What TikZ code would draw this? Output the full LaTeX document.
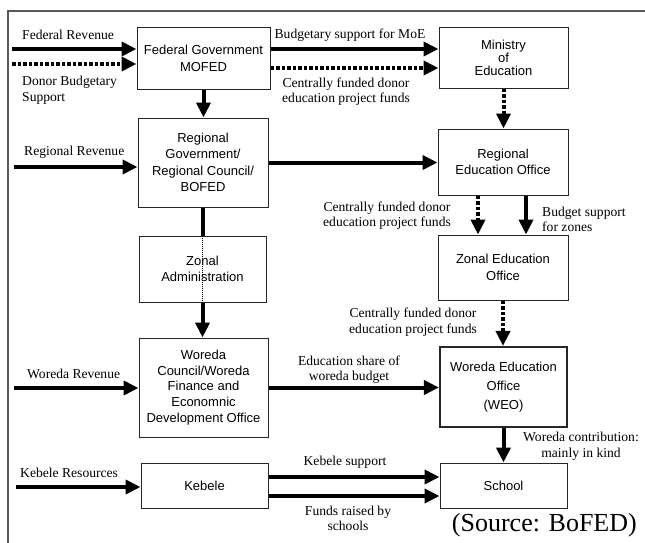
\documentclass[tikz,border=0pt]{standalone}
\usepackage{fontspec}
\setmainfont{Liberation Serif}
\newfontfamily\boxfont{Liberation Sans}
\usetikzlibrary{arrows.meta}
\begin{document}
\begin{tikzpicture}[x=1pt,y=-1pt,
  unit/.style={draw=black!85, line width=1pt, fill=white, align=center, inner sep=0pt,
    font=\boxfont\fontsize{13}{16.3}\selectfont},
  flow/.style={line width=4pt, -{Triangle[length=15pt,width=14pt]}},
  link/.style={line width=4pt},
  donor/.style={flow, dash pattern=on 3.5pt off 2pt},
  lbl/.style={font=\fontsize{13.6}{15.5}\selectfont, inner sep=0pt, align=center},
  frame/.style={draw=black!65, line width=1.5pt},
]
\useasboundingbox (0,0) rectangle (645,543);

% outer frame (top and left edges only)
\draw[frame] (8,543) -- (8,11) -- (645,11);

% administrative units
\node[unit, minimum width=133pt, minimum height=61pt] (fed) at (203.5,58.5) {Federal Government\\MOFED};
\node[unit, minimum width=129pt, minimum height=60pt, font=\boxfont\fontsize{13}{13.3}\selectfont] (moe) at (503.5,58) {Ministry\\of\\Education};
\node[unit, minimum width=130pt, minimum height=89pt] (rg) at (203,162.5) {Regional\\Government/\\Regional Council/\\BOFED};
\node[unit, minimum width=127pt, minimum height=66pt] (za) at (202.5,269) {Zonal\\Administration};
\node[unit, minimum width=130pt, minimum height=66pt] (reo) at (503,162) {Regional\\Education Office};
\node[unit, minimum width=130pt, minimum height=65pt] (zeo) at (503,267.5) {Zonal Education\\Office};
\node[unit, minimum width=129pt, minimum height=99pt, font=\boxfont\fontsize{13}{15.8}\selectfont] (wc) at (203.5,387.5) {Woreda\\Council/Woreda\\Finance and\\Economnic\\Development Office};
\node[unit, minimum width=127pt, minimum height=45pt] (keb) at (204.5,485.5) {Kebele};
\node[unit, minimum width=127pt, minimum height=80pt, line width=2.2pt, font=\boxfont\fontsize{13}{19}\selectfont] (weo) at (503.5,387) {Woreda Education\\Office\\(WEO)};
\node[unit, minimum width=127pt, minimum height=45pt] (sch) at (503.5,485.5) {School};

% free ends of the revenue inputs
\coordinate (inFR) at (12,49);
\coordinate (inDB) at (12,64);
\coordinate (inRR) at (14,167);
\coordinate (inWR) at (14,388);
\coordinate (inKR) at (16,487);

% revenue inputs
\draw[flow] (inFR) -- (inFR -| fed.west);
\draw[donor] (inDB) -- (inDB -| fed.west);
\draw[flow] (inRR) -- (inRR -| rg.west);
\draw[flow] (inWR) -- (inWR -| wc.west);
\draw[flow] (inKR) -- (inKR -| keb.west);

% federal level
\draw[flow] ([yshift=9.5pt]fed.east) -- ([yshift=9.5pt]fed.east -| moe.west);
\draw[donor] ([yshift=-9.5pt]fed.east) -- ([yshift=-9.5pt]fed.east -| moe.west);
\draw[flow] (fed.south) -- (fed.south |- rg.north);
\draw[donor] (moe.south) -- (moe.south |- reo.north);

% regional level
\draw[flow] (rg.east) -- (rg.east -| reo.west);
\draw[link] (rg.south) -- (rg.south |- za.north);
\draw[line width=1pt, dash pattern=on 1pt off 1pt] (za.north) -- (za.south);
\draw[flow] (za.south) -- (za.south |- wc.north);
\draw[donor] ([xshift=-25pt]reo.south) -- ([xshift=-25pt]reo.south |- zeo.north);
\draw[flow] ([xshift=23pt]reo.south) -- ([xshift=23pt]reo.south |- zeo.north);
\draw[donor] (zeo.south) -- (zeo.south |- weo.north);

% woreda and kebele level
\draw[flow] (wc.east) -- (wc.east -| weo.west);
\draw[flow] (weo.south) -- (weo.south |- sch.north);
\draw[flow] ([yshift=8.5pt]keb.east) -- ([yshift=8.5pt]keb.east -| sch.west);
\draw[flow] ([yshift=-10.5pt]keb.east) -- ([yshift=-10.5pt]keb.east -| sch.west);

% flow labels
\node[lbl, anchor=west] (tFR) at (22,35) {Federal Revenue};
\node[lbl, anchor=west, align=left] (tDB) at (22,90) {Donor Budgetary\\Support};
\node[lbl] (tMoE) at (350,35) {Budgetary support for MoE};
\node[lbl] (tCF1) at (346,91.5) {Centrally funded donor\\education project funds};
\node[lbl, anchor=west] (tRR) at (24,152) {Regional Revenue};
\node[lbl] (tCF2) at (387,215.5) {Centrally funded donor\\education project funds};
\node[lbl, anchor=west, align=left] (tBZ) at (542,219.5) {Budget support\\for zones};
\node[lbl] (tCF3) at (413,322) {Centrally funded donor\\education project funds};
\node[lbl, anchor=west] (tWR) at (27,374) {Woreda Revenue};
\node[lbl] (tES) at (349,369.5) {Education share of\\woreda budget};
\node[lbl] (tWC) at (581,446) {Woreda contribution:\\mainly in kind};
\node[lbl, anchor=west] (tKR) at (20,473) {Kebele Resources};
\node[lbl] (tKS) at (345,462) {Kebele support};
\node[lbl] (tFS) at (348,518.5) {Funds raised by\\schools};
\node[font=\fontsize{26}{28}\selectfont, anchor=east, inner sep=0pt] (src) at (637,525) {(Source: BoFED)};
\end{tikzpicture}
\end{document}
